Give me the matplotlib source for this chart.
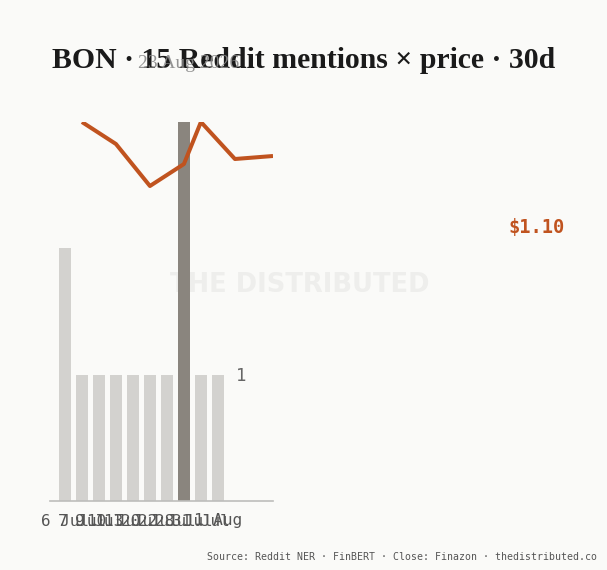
import matplotlib
matplotlib.use("Agg")
import matplotlib.pyplot as plt

# ---- data ----
bar_labels = ["6 Jul", "7 Jul", "9 Jul", "10 Jul", "13 Jul", "20 Jul", "22 Jul", "28 Jul", "31 Jul", "1 Aug"]
mentions = [2, 1, 1, 1, 1, 1, 1, 3, 1, 1]
highlight_index = 7
price_pos = [1, 3, 5, 7, 8, 10, 12.24]
price = [1.200, 1.178, 1.136, 1.158, 1.200, 1.163, 1.166]
title = "BON · 15 Reddit mentions × price · 30d"
subtitle = "23 Aug 2026"
last_price_label = "$1.10"
ytick_label = "1"
source = "Source: Reddit NER · FinBERT · Close: Finazon · thedistributed.co"

BG = "#FAFAF8"
W, H = 607, 570
fig = plt.figure(figsize=(W / 100, H / 100), dpi=100, facecolor=BG)

def fx(px):
    return px / W

def fy(py):
    return 1 - py / H

ax_l, ax_r, ax_t, ax_b = 50, 273, 122, 501
ax = fig.add_axes([fx(ax_l), fy(ax_b), fx(ax_r - ax_l), fy(ax_t) - fy(ax_b)])
ax.set_facecolor("none")
ax.set_zorder(2)

# watermark (behind bars)
fig.text(fx(300), fy(285), "THE DISTRIBUTED", ha="center", va="center",
         fontsize=18.5, fontweight="bold", family="DejaVu Sans", color="#EEEEEC", zorder=0)

x = list(range(len(mentions)))
colors = ["#8A857E" if i == highlight_index else "#D3D2CF" for i in x]
ax.bar(x, mentions, width=0.7, color=colors, zorder=2)
ax.set_xlim(-0.88, 12.24)
ax.set_ylim(0, 3)
for s in ["top", "right", "left"]:
    ax.spines[s].set_visible(False)
ax.spines["bottom"].set_color("#BDBDBB")
ax.spines["bottom"].set_linewidth(1.2)
ax.set_yticks([])
ax.set_xticks(x)
ax.set_xticklabels(bar_labels, family="DejaVu Sans Mono", fontsize=11.5, color="#555555")
ax.tick_params(axis="x", length=0, pad=9)

ax2 = ax.twinx()
ax2.set_position(ax.get_position())
ax2.plot(price_pos, price, color="#C0531F", lw=2.9, solid_capstyle="butt", zorder=3)
ax2.set_ylim(1.20 - 0.379, 1.20)
ax2.set_xlim(-0.88, 12.24)
ax2.axis("off")

# texts
fig.text(fx(304), fy(61), title, ha="center", va="center", fontsize=21.4,
         fontweight="bold", family="Liberation Serif", color="#1A1A1A")
fig.text(fx(189), fy(63), subtitle, ha="center", va="center", fontsize=14,
         family="Liberation Serif", color="#888888", alpha=0.9)
fig.text(fx(241), fy(376), ytick_label, ha="center", va="center", fontsize=12.5,
         family="DejaVu Sans Mono", color="#666666")
fig.text(fx(537), fy(228), last_price_label, ha="center", va="center", fontsize=13.5,
         fontweight="bold", family="DejaVu Sans Mono", color="#C0531F")
fig.text(fx(597), fy(557), source, ha="right", va="center", fontsize=7.15,
         family="DejaVu Sans Mono", color="#555555")

fig.savefig("out.png", dpi=100, facecolor=BG)
